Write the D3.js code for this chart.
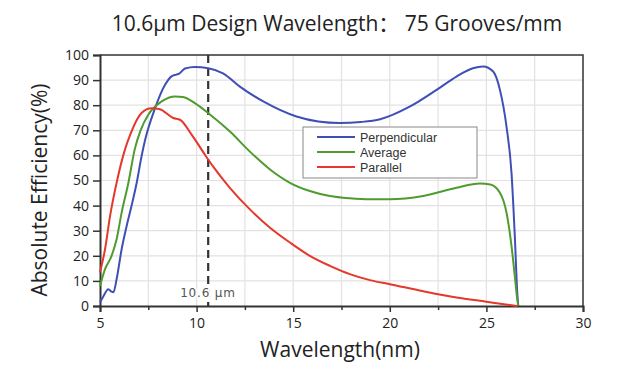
<!DOCTYPE html>
<html>
<head>
<meta charset="utf-8">
<script src="https://cdn.jsdelivr.net/npm/d3@7"></script>
<style>
  body { margin: 0; background: #fff; }
  text { font-family: "Open Sans", "Noto Sans CJK SC", sans-serif; fill: #222; }
</style>
</head>
<body>
<div id="chart"></div>
<script>
// data
var seriesNames = ["Perpendicular", "Average", "Parallel"];
var seriesColors = ["#3f4fb5", "#4f9b2f", "#e5372b"];

var perpX = [5, 5.15, 5.43, 5.6, 5.7, 5.86, 6.12, 6.38, 6.63, 6.9, 7.15, 7.33, 7.85, 8.36, 8.7, 8.95, 9.1, 9.4, 9.91, 10.6, 11.37, 12.24, 13.45, 15.17, 16.3, 17.4, 18.5, 19.5, 21.05, 22.42, 23.45, 24.3, 24.83, 25.35, 25.7, 26.04, 26.3, 26.47, 26.6, 26.65];
var perpY = [1.5, 3.5, 6.7, 5.7, 5.5, 10.7, 22.6, 31.9, 39.8, 49.1, 59.6, 66, 78.8, 88, 91.5, 92.2, 92.6, 94.6, 95.2, 94.7, 92.7, 87.4, 81.5, 75.5, 73.5, 72.9, 73.3, 74.4, 79.5, 86.1, 91.4, 94.7, 95.4, 93.4, 86.1, 71.5, 53, 27.9, 5, 0];

var avgX = [5, 5.26, 5.6, 5.86, 6.12, 6.47, 6.8, 7.1, 7.5, 8.19, 8.88, 9.3, 9.91, 10.69, 11.74, 12.76, 13.8, 14.83, 15.86, 16.9, 17.93, 18.97, 20, 21.73, 23.45, 24.66, 25.2, 25.7, 26.04, 26.3, 26.47, 26.6, 26.65];
var avgY = [8, 14.7, 20, 26.6, 37.2, 49.1, 62.5, 70, 76.2, 81.5, 83.5, 83.3, 80.8, 76.3, 69.4, 61.5, 54.4, 49.1, 45.8, 43.8, 42.9, 42.5, 42.5, 43.8, 47.1, 48.8, 48.4, 45.1, 37.2, 23.9, 12, 2.5, 0];

var parX = [5, 5.26, 5.52, 5.86, 6.29, 6.6, 7.15, 7.67, 8.1, 8.79, 9.14, 9.74, 10.43, 10.86, 11.72, 12.76, 13.8, 14.83, 15.86, 16.9, 17.93, 18.97, 20, 21.73, 23.45, 25, 26, 26.6];
var parY = [13.4, 22.6, 35.8, 49.1, 62.3, 69, 76.9, 78.8, 78.4, 74.9, 74.2, 68.3, 60.3, 55.5, 47.1, 38.5, 31.2, 25.3, 20, 16, 12.7, 10.3, 8.7, 5.9, 3.4, 1.7, 0.6, 0];

var xTicks = [5, 10, 15, 20, 25, 30];
var yTicks = [0, 10, 20, 30, 40, 50, 60, 70, 80, 90, 100];
var designWavelength = 10.6;

var width = 620, height = 370;
var margin = { top: 55, right: 37, bottom: 64, left: 100 };
var w = width - margin.left - margin.right,
    h = height - margin.top - margin.bottom;

var svg = d3.select("#chart").append("svg")
    .attr("width", width)
    .attr("height", height);

svg.append("text")
    .attr("x", 337)
    .attr("y", 31)
    .attr("text-anchor", "middle")
    .style("font-size", "21px")
    .text("10.6μm Design Wavelength： 75 Grooves/mm");

var g = svg.append("g")
    .attr("transform", "translate(" + margin.left + "," + margin.top + ")");

var x = d3.scaleLinear().domain([5, 30]).range([0, w]);
var y = d3.scaleLinear().domain([0, 100]).range([h, 0]);

// grid
g.selectAll(".vgrid")
  .data(d3.range(7.5, 30, 2.5))
  .enter().append("line")
    .attr("x1", function(d) { return x(d); })
    .attr("x2", function(d) { return x(d); })
    .attr("y1", 0).attr("y2", h)
    .style("stroke", "#e2e2e2").style("stroke-width", 1.2);

g.selectAll(".hgrid")
  .data(yTicks.slice(1, -1))
  .enter().append("line")
    .attr("x1", 0).attr("x2", w)
    .attr("y1", function(d) { return y(d); })
    .attr("y2", function(d) { return y(d); })
    .style("stroke", "#e2e2e2").style("stroke-width", 1.2);

// frame top / right
g.append("path")
    .attr("d", "M0,0H" + w + "V" + h)
    .style("fill", "none").style("stroke", "#333").style("stroke-width", 1.5);

// axes
g.append("g")
    .attr("transform", "translate(0," + h + ")")
    .call(d3.axisBottom(x).tickValues(xTicks).tickSize(6).tickPadding(6).tickFormat(d3.format("d")));
g.append("g")
    .attr("transform", "translate(0," + h + ")")
    .call(d3.axisBottom(x).tickValues([7.5, 12.5, 17.5, 22.5, 27.5]).tickSize(4).tickFormat(""))
    .select(".domain").remove();

g.append("g")
    .call(d3.axisLeft(y).tickValues(yTicks).tickSize(7).tickPadding(4));

g.selectAll(".domain").style("stroke", "#333").style("stroke-width", 2);
g.selectAll(".tick line").style("stroke", "#333").style("stroke-width", 1.5);
g.selectAll(".tick text").style("font-size", "14px").style("fill", "#222")
    .style("font-family", "'Open Sans', 'Noto Sans', sans-serif");

// design wavelength marker
g.append("line")
    .attr("x1", x(designWavelength)).attr("x2", x(designWavelength))
    .attr("y1", 0).attr("y2", h)
    .style("stroke", "#333").style("stroke-width", 2.2)
    .style("stroke-dasharray", "8,5");

g.append("text")
    .attr("x", x(designWavelength) - 28)
    .attr("y", h - 9)
    .style("font-family", "'DejaVu Sans', sans-serif")
    .style("font-size", "12px")
    .style("letter-spacing", "0.8px")
    .style("fill", "#555")
    .style("stroke", "#fff")
    .style("stroke-width", 3)
    .style("paint-order", "stroke")
    .text("10.6 μm");

// curves
var line = d3.line()
    .x(function(d) { return x(d[0]); })
    .y(function(d) { return y(d[1]); })
    .curve(d3.curveMonotoneX);

var series = [d3.zip(perpX, perpY), d3.zip(avgX, avgY), d3.zip(parX, parY)];

g.selectAll(".curve")
  .data(series)
  .enter().append("path")
    .attr("class", "curve")
    .attr("d", line)
    .style("fill", "none")
    .style("stroke", function(d, i) { return seriesColors[i]; })
    .style("stroke-width", 2);

// legend
var legend = g.append("g")
    .attr("transform", "translate(" + (303 - margin.left) + "," + (127 - margin.top) + ")");

legend.append("rect")
    .attr("width", 174).attr("height", 51)
    .style("fill", "#fff").style("stroke", "#888").style("stroke-width", 1);

var item = legend.selectAll(".item")
  .data(seriesNames)
  .enter().append("g")
    .attr("transform", function(d, i) { return "translate(0," + (10 + i * 15) + ")"; });

item.append("line")
    .attr("x1", 14).attr("x2", 52)
    .style("stroke", function(d, i) { return seriesColors[i]; })
    .style("stroke-width", 2);

item.append("text")
    .attr("x", 57).attr("y", 4.5)
    .style("font-family", "'Liberation Sans', Arial, sans-serif")
    .style("font-size", "12.5px")
    .style("fill", "#333")
    .text(function(d) { return d; });

// axis titles
svg.append("text")
    .attr("x", 340)
    .attr("y", 357)
    .attr("text-anchor", "middle")
    .style("font-size", "21px")
    .text("Wavelength(nm)");

svg.append("text")
    .attr("transform", "translate(47,190) rotate(-90)")
    .attr("text-anchor", "middle")
    .style("font-size", "21px")
    .text("Absolute Efficiency(%)");
</script>
</body>
</html>
